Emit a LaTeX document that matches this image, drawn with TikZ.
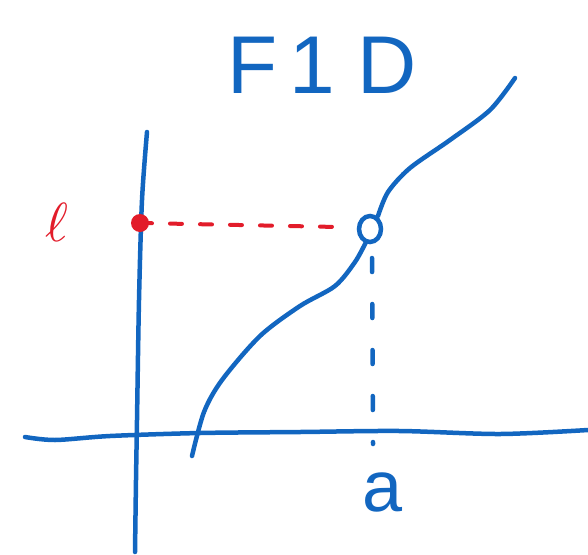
\documentclass[tikz,border=0pt]{standalone}
\usepackage{fontspec}
\setmainfont{Liberation Sans}
\usetikzlibrary{shapes.geometric}
\definecolor{penblue}{RGB}{18,102,192}
\definecolor{penred}{RGB}{226,28,42}
\begin{document}
\begin{tikzpicture}[x=1pt,y=-1pt,
  stroke/.style={line width=4.5pt,line cap=round,line join=round},
  bluestroke/.style={stroke,draw=penblue},
  redstroke/.style={stroke,draw=penred}]
\useasboundingbox (0,0) rectangle (588,554);
% title
\node[text=penblue,font=\fontsize{82}{82}\selectfont] (title) at (322,65) {F\hspace{12pt}1\hspace{22pt}D};
% axes
\draw[bluestroke] plot[smooth] coordinates {(147,132) (142,200) (139,300) (137,420) (136,480) (135,552)};
\draw[bluestroke] plot[smooth] coordinates {(25,437) (55,440) (110,436) (200,433) (300,432) (400,431) (500,434) (588,430)};
% curve
\draw[bluestroke] plot[smooth] coordinates {(192,456) (204,412) (222,380) (260,336) (300,306) (335,286) (355,262) (366,242)};
\draw[bluestroke] plot[smooth] coordinates {(378,216) (388,192) (410,168) (450,140) (490,110) (515,78)};
\node[draw=penblue,line width=4.5pt,ellipse,minimum width=22pt,minimum height=26pt,inner sep=0pt] (pt) at (370,229) {};
% red dashed guide
\node[circle,fill=penred,minimum size=18pt,inner sep=0pt] (dot) at (140,223) {};
\coordinate (redend) at (338,227);
\draw[redstroke,line width=4pt,dash pattern=on 12pt off 18pt] (dot.center) -- (redend);
% blue dashed guide
\coordinate (bluetop) at (372,258);
\coordinate (bluebot) at (373,444);
\draw[bluestroke,dash pattern=on 14pt off 32pt] (bluetop) -- (bluebot);
% labels
\node[text=penred] (ell) at (57,222) {\scalebox{5.5}{$\ell$}};
\node[text=penblue,font=\fontsize{72}{72}\selectfont] (a) at (383,492) {a};
\end{tikzpicture}
\end{document}
